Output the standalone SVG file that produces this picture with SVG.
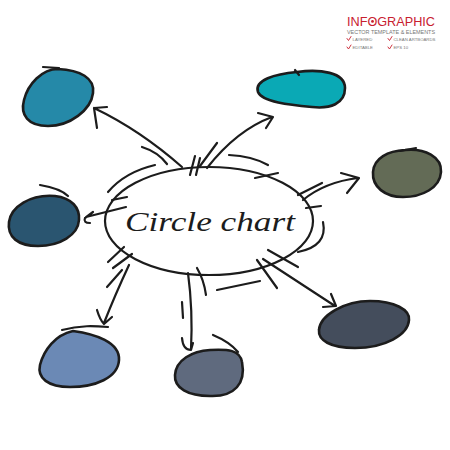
<svg xmlns="http://www.w3.org/2000/svg" width="450" height="450" viewBox="0 0 450 450">
<style>
.ln{fill:none;stroke:#1c1c1c;stroke-width:2.2;stroke-linecap:round;stroke-linejoin:round}
.blob{stroke:#1c1c1c;stroke-width:2.6;stroke-linejoin:round}
.chk{fill:none;stroke:#c8202f;stroke-width:0.9;stroke-linecap:round}
.sm{font-family:"Liberation Sans",Arial,sans-serif;font-size:4.3px;fill:#777}
</style>
<rect width="450" height="450" fill="#ffffff"/>
<g id="logo">
<text x="347" y="26" font-family="Liberation Sans,Arial,sans-serif" font-size="13" fill="#c8202f" textLength="88" lengthAdjust="spacingAndGlyphs">INFOGRAPHIC</text>
<circle cx="372.5" cy="21.4" r="1.4" fill="#c8202f"/>
<text x="347" y="34" font-family="Liberation Sans,Arial,sans-serif" font-size="5.5" fill="#777" textLength="88" lengthAdjust="spacingAndGlyphs">VECTOR TEMPLATE &amp; ELEMENTS</text>
<path class="chk" d="M347,38.5 L348.5,40.5 L351,36.5"/>
<text class="sm" x="352.5" y="40.5">LAYERED</text>
<path class="chk" d="M388,38.5 L389.5,40.5 L392,36.5"/>
<text class="sm" x="393.5" y="40.5">CLEAN ARTBOARDS</text>
<path class="chk" d="M347,47 L348.5,49 L351,45"/>
<text class="sm" x="352.5" y="49">EDITABLE</text>
<path class="chk" d="M388,47 L389.5,49 L392,45"/>
<text class="sm" x="393.5" y="49">EPS 10</text>
</g>
<g id="center">
<ellipse class="ln" cx="209" cy="221" rx="104" ry="54"/>
<text x="125" y="231" font-family="Liberation Serif,serif" font-style="italic" font-size="28" fill="#1c1c1c" textLength="170" lengthAdjust="spacingAndGlyphs">Circle chart</text>
</g>
<g id="connectors">
<path class="ln" d="M108,192 Q125,172 155,165"/>
<path class="ln" d="M142,147 Q158,152 167,164"/>
<path class="ln" d="M182,167 Q140,130 94,108 M107,107 L94,108 L97,128"/>
<path class="ln" d="M190,175 L195,156 M196,175 L200,158"/>
<path class="ln" d="M200,166 L217,143"/>
<path class="ln" d="M207,168 C225,145 245,127 272,117 M258,113 L273,117 L266,128"/>
<path class="ln" d="M229,155 Q252,156 268,165"/>
<path class="ln" d="M255,178 L278,173"/>
<path class="ln" d="M303,200 Q325,182 358,178 M341,173 L359,178 L347,193"/>
<path class="ln" d="M298,195 L322,183"/>
<path class="ln" d="M306,208 L321,206"/>
<path class="ln" d="M323,222 Q328,246 298,252"/>
<path class="ln" d="M126,207 L86,217 M93,212 L85,218 Q83,223 90,223"/>
<path class="ln" d="M112,200 L127,197"/>
<path class="ln" d="M108,262 L124,247 M113,268 L132,254 M107,287 L122,270"/>
<path class="ln" d="M129,265 Q115,295 104,323 M97,310 Q100,320 104,324 L112,317"/>
<path class="ln" d="M188,273 Q193,310 191,350 M182,338 Q183,350 191,350 L193,343"/>
<path class="ln" d="M197,268 Q204,280 206,295 M182,302 L183,318"/>
<path class="ln" d="M217,290 L260,281"/>
<path class="ln" d="M263,259 L335,306 M331,294 L336,306 L323,307"/>
<path class="ln" d="M268,250 L298,267 M257,260 L277,288"/>
</g>
<g id="node-top-left">
<path class="blob" fill="#2589a8" d="M58,69 C80,70 95,78 93,93 C91,110 70,126 48,126 C28,126 20,115 24,100 C28,84 42,69 58,69 Z"/>
<path class="ln" d="M43,67 L59,68"/>
</g>
<g id="node-top">
<path class="blob" fill="#0aa9b5" d="M297,72 C320,69 345,72 345,88 C345,104 330,109 312,107 C290,105 262,102 258,92 C254,80 275,74 297,72 Z"/>
<path class="ln" d="M295,70 L299,75"/>
</g>
<g id="node-right">
<path class="blob" fill="#636b56" d="M405,150 C425,148 442,157 441,172 C440,188 422,197 403,197 C385,197 372,187 373,172 C374,158 388,151 405,150 Z"/>
<path class="ln" d="M400,151 L416,148"/>
</g>
<g id="node-left">
<path class="blob" fill="#2a5570" d="M55,196 C72,198 80,208 79,220 C78,235 60,246 38,246 C18,246 7,237 9,222 C11,207 30,194 55,196 Z"/>
<path class="ln" d="M40,185 C52,187 62,190 68,196"/>
</g>
<g id="node-bottom-left">
<path class="blob" fill="#6b89b5" d="M73,331 C95,334 120,342 119,360 C118,378 95,387 70,387 C48,387 37,378 40,365 C44,350 55,335 73,331 Z"/>
<path class="ln" d="M62,330 C80,325 95,326 108,327"/>
</g>
<g id="node-bottom">
<path class="blob" fill="#5f6a7e" d="M210,350 C228,349 240,350 242,362 C246,383 235,397 210,396 C188,396 174,388 175,375 C176,360 192,351 210,350 Z"/>
<path class="ln" d="M213,335 C225,340 233,346 238,352"/>
</g>
<g id="node-bottom-right">
<path class="blob" fill="#444d5c" d="M370,301 C395,301 410,310 409,320 C408,335 385,348 355,348 C330,348 318,340 319,330 C320,315 345,301 370,301 Z"/>
</g>
</svg>
